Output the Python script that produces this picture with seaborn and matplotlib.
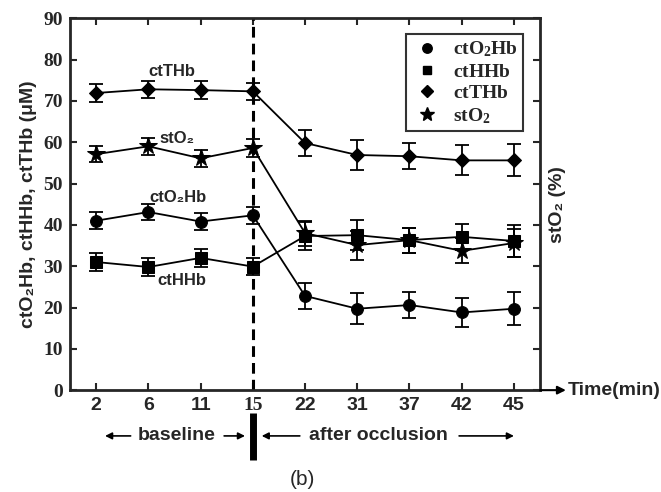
import matplotlib
matplotlib.use("Agg")
import matplotlib.pyplot as plt
import matplotlib.transforms as mtransforms
from matplotlib.lines import Line2D
import numpy as np
import pandas as pd
import seaborn as sns

# time points (min)
times = ["2", "6", "11", "15", "22", "31", "37", "42", "45"]

ct_o2hb = [41.0, 43.1, 40.8, 42.3, 22.8, 19.7, 20.6, 18.8, 19.7]
ct_o2hb_err = [2.1, 2.0, 2.1, 2.0, 3.1, 3.8, 3.2, 3.4, 4.0]

ct_hhb = [31.0, 29.8, 32.0, 29.9, 37.3, 37.5, 36.3, 37.1, 36.1]
ct_hhb_err = [2.1, 2.1, 2.2, 2.0, 3.5, 3.6, 3.0, 3.2, 3.8]

ct_thb = [71.9, 72.8, 72.6, 72.3, 59.8, 56.9, 56.6, 55.6, 55.6]
ct_thb_err = [2.1, 2.0, 2.1, 2.0, 3.1, 3.6, 3.2, 3.6, 3.9]

st_o2 = [57.1, 59.0, 56.1, 58.6, 38.0, 35.1, 36.3, 33.7, 35.6]
st_o2_err = [2.0, 2.1, 2.0, 2.2, 3.0, 3.5, 3.0, 3.0, 3.5]

series_names = ["ctO2Hb", "ctHHb", "ctTHb", "stO2"]
legend_labels = [r"$\mathbf{ctO_2Hb}$", r"$\mathbf{ctHHb}$", r"$\mathbf{ctTHb}$", r"$\mathbf{stO_2}$"]

sns.set_style("ticks")
plt.rcParams["font.family"] = ["Liberation Sans", "DejaVu Sans"]
plt.rcParams["mathtext.fontset"] = "custom"
plt.rcParams["mathtext.rm"] = "Liberation Serif"
plt.rcParams["mathtext.bf"] = "Liberation Serif:bold"

idx = np.arange(len(times))
df = pd.DataFrame({
    "idx": np.tile(idx, 4),
    "value": ct_o2hb + ct_hhb + ct_thb + st_o2,
    "err": ct_o2hb_err + ct_hhb_err + ct_thb_err + st_o2_err,
    "series": np.repeat(series_names, len(times)),
})

markers = {"ctO2Hb": "o", "ctHHb": "s", "ctTHb": "D", "stO2": "*"}
msizes = {"ctO2Hb": 8.5, "ctHHb": 8, "ctTHb": 7.5, "stO2": 13}

fig = plt.figure(figsize=(6.61, 4.92), dpi=100)
ax = fig.add_axes([0.106, 0.207, 0.711, 0.756])

# dashed line marking occlusion
ax.axvline(3, color="black", ls=(0, (3.5, 2)), lw=2.2, zorder=1)

for name in series_names:
    sub = df[df["series"] == name]
    ax.errorbar(sub["idx"], sub["value"], yerr=sub["err"], fmt="none",
                ecolor="black", elinewidth=1.3, capsize=5, capthick=1.3, zorder=2)
    sns.lineplot(data=sub, x="idx", y="value", marker=markers[name],
                 markersize=msizes[name], color="black", lw=1.3,
                 markeredgecolor="black", ax=ax, zorder=3)

ax.set_xlim(-0.5, 8.5)
ax.set_ylim(0, 90)
ax.set_xticks(idx)
ax.set_xticklabels(times, fontsize=14, fontweight="bold")
ax.get_xticklabels()[3].set_family("Liberation Serif")
ax.set_yticks(np.arange(0, 91, 10))
ax.set_yticklabels([str(v) for v in range(0, 91, 10)], fontsize=14,
                   fontweight="bold", family="Liberation Serif")
ax.set_xlabel("")
ax.set_ylabel("ctO₂Hb, ctHHb, ctTHb (μM)", fontsize=14, fontweight="bold", labelpad=5)
ax.tick_params(direction="in", length=5, width=1.5, top=True, right=True, pad=5)
for sp in ax.spines.values():
    sp.set_linewidth(2)
    sp.set_visible(True)

ax.text(1.02, 0.5, "stO₂ (%)", transform=ax.transAxes, rotation=90,
        ha="left", va="center", fontsize=14, fontweight="bold")

# inline labels
ax.text(1.45, 77.0, "ctTHb", ha="center", va="center", fontsize=12, fontweight="bold")
ax.text(1.55, 61.0, "stO₂", ha="center", va="center", fontsize=12, fontweight="bold")
ax.text(1.57, 46.7, "ctO₂Hb", ha="center", va="center", fontsize=12, fontweight="bold")
ax.text(1.64, 26.6, "ctHHb", ha="center", va="center", fontsize=12, fontweight="bold")

# legend
handles = [Line2D([], [], ls="none", marker=markers[n], color="black",
                  markersize=msizes[n] * 0.8) for n in series_names]
leg = ax.legend(handles, legend_labels, loc="upper right", fontsize=14,
                frameon=True, fancybox=False, edgecolor="black",
                borderpad=0.3, handletextpad=0.5, handlelength=1.6,
                labelspacing=0.2, bbox_to_anchor=(0.985, 0.985))
leg.get_frame().set_linewidth(1.5)

# time axis arrow
ax.annotate("", xy=(1.055, 0), xytext=(1.0, 0), xycoords="axes fraction",
            arrowprops=dict(arrowstyle="-|>", color="black", lw=1.5,
                            mutation_scale=12, shrinkA=0, shrinkB=0),
            annotation_clip=False)
ax.text(1.058, 0, "Time(min)", transform=ax.transAxes, ha="left", va="center",
        fontsize=14, fontweight="bold")

# baseline / after occlusion annotations below the axis
trans = mtransforms.blended_transform_factory(ax.transData, fig.transFigure)
yy = 0.114
arrow = dict(arrowstyle="-|>", color="black", lw=1.2, mutation_scale=10,
             shrinkA=0, shrinkB=0)
ax.annotate("", xy=(0.17, yy), xytext=(0.66, yy), xycoords=trans, arrowprops=arrow,
            annotation_clip=False)
ax.annotate("", xy=(2.85, yy), xytext=(2.45, yy), xycoords=trans, arrowprops=arrow,
            annotation_clip=False)
ax.text(1.55, yy, "baseline", transform=trans, ha="center", va="center",
        fontsize=14, fontweight="bold")
ax.annotate("", xy=(3.17, yy), xytext=(3.9, yy), xycoords=trans, arrowprops=arrow,
            annotation_clip=False)
ax.annotate("", xy=(8.0, yy), xytext=(6.95, yy), xycoords=trans, arrowprops=arrow,
            annotation_clip=False)
ax.text(5.4, yy, "after occlusion", transform=trans, ha="center", va="center",
        fontsize=14, fontweight="bold")
ax.add_line(Line2D([3, 3], [0.065, 0.161], transform=trans, color="black",
                   lw=5, clip_on=False, solid_capstyle="butt"))

fig.text(0.458, 0.025, "(b)", ha="center", va="center", fontsize=15)

fig.savefig("out.png", dpi=100)
